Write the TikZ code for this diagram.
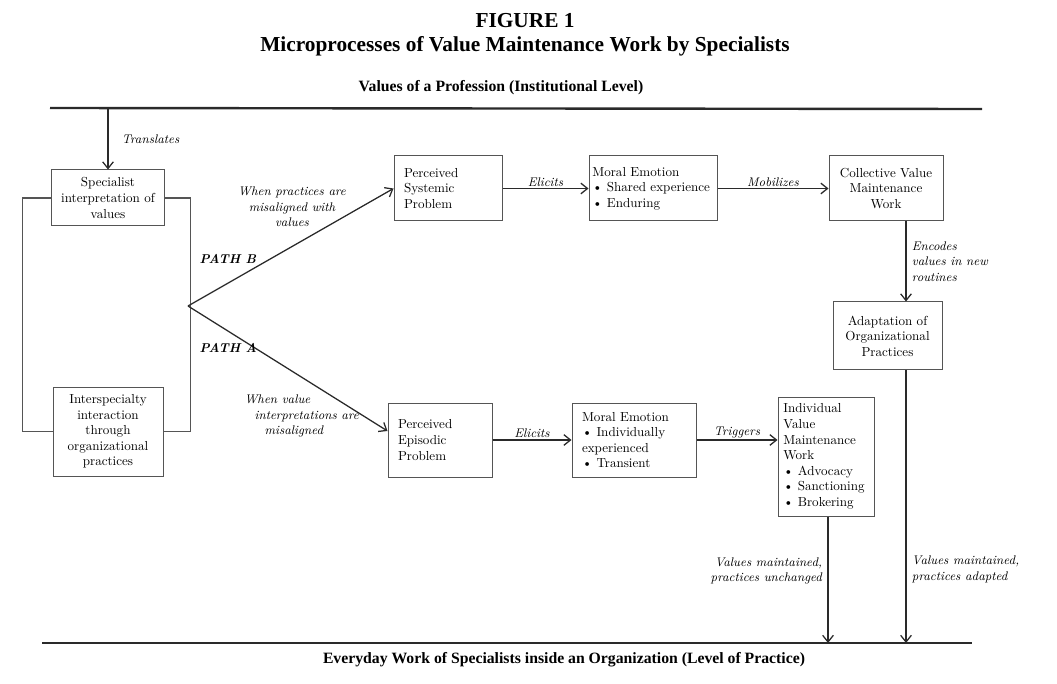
\documentclass[tikz,border=0pt]{standalone}
\usepackage{fontspec}
\usepackage{tikz}
\usetikzlibrary{arrows.meta, positioning}
\newfontfamily\headfont{Liberation Serif}
\definecolor{boxgray}{HTML}{555555}
\definecolor{inkgray}{HTML}{2A2A2A}
\hyphenpenalty=10000

\tikzset{
  box/.style={draw=boxgray, line width=0.75pt, inner xsep=7.5pt, inner ysep=2pt, font=\fontsize{9.8}{11.7}\selectfont},
  arr/.style={draw=inkgray, line width=0.95pt, -{Straight Barb[length=5pt, width=8pt]}},
  link/.style={draw=boxgray, line width=0.8pt},
  level/.style={draw=inkgray, line width=1.8pt},
  note/.style={font=\fontsize{9.4}{11.6}\selectfont\itshape, inner sep=1pt},
  pathlab/.style={font=\fontsize{9.6}{11.6}\selectfont\bfseries\itshape},
  head/.style={font=\headfont\bfseries\fontsize{16}{19}\selectfont},
  tier/.style={font=\headfont\bfseries\fontsize{11.8}{14}\selectfont},
}

\begin{document}
\begin{tikzpicture}[x=0.75pt, y=-0.75pt]
    \useasboundingbox (0,0) rectangle (1057,684);

    % headings and the two levels
    \node[head] (fig) at (525,21) {FIGURE 1};
    \node[head] (title) at (525,46) {Microprocesses of Value Maintenance Work by Specialists};
    \node[tier] (inst) at (501,88) {Values of a Profession (Institutional Level)};
    \node[tier] (prac) at (564,660) {Everyday Work of Specialists inside an Organization (Level of Practice)};

    \draw[level] (50,108) -- (982,109);
    \draw[level] (42,643) -- (972,643);

    % left pair
    \node[box, minimum width=82.5pt, minimum height=42pt, align=center] (spec) at (108,198) {Specialist\\ interpretation of\\ values};
    \node[box, minimum width=82.5pt, minimum height=66.75pt, align=center] (inter) at (108,431.5) {Interspecialty\\ interaction\\ through\\ organizational\\ practices};

    \draw[link] (spec.west) -- ++(-28,0) |- (inter.west);
    \draw[link] (spec.east) -- ++(25,0) |- (inter.east);

    \coordinate (src) at (108,108);
    \coordinate (fork) at (188,306);
    \draw[arr] (src) -- (spec.north) node[note, midway, right=9pt] (transl) {Translates};

    % path B
    \node[box, text width=66pt, minimum height=48.75pt, align=left] (sysprob) at (448,188.5) {Perceived\\ Systemic\\ Problem};
    \node[box, inner xsep=2.5pt, text width=91pt, minimum height=48.75pt, align=left] (emoshared) at (653,188.5) {Moral Emotion\\ \mbox{\textbullet\ Shared experience}\\ \textbullet\ Enduring};
    \node[box, minimum width=85.5pt, minimum height=48.75pt, align=center] (collwork) at (886,188.5) {Collective Value\\ Maintenance\\ Work};
    \node[box, minimum width=81.75pt, minimum height=51pt, align=center] (adapt) at (887.5,336) {Adaptation of\\ Organizational\\ Practices};

    % path A
    \node[box, text width=63pt, minimum height=55.5pt, align=left] (epiprob) at (440,440) {Perceived\\ Episodic\\ Problem};
    \node[box, text width=78pt, minimum height=55.5pt, align=left] (emoindiv) at (634,440) {Moral Emotion\\ \textbullet\ Individually\\ experienced\\ \textbullet\ Transient};
    \node[box, inner xsep=4pt, text width=64pt, minimum height=89.25pt, align=left] (indwork) at (826,456.5) {Individual\\ Value\\ Maintenance\\ Work\\ \textbullet\ Advocacy\\ \textbullet\ Sanctioning\\ \textbullet\ Brokering};

    \draw[arr] (fork) -- (sysprob.west);
    \draw[arr] (fork) -- ([yshift=6.75pt]epiprob.west);
    \node[note, align=center] (whenB) at (292,207) {When practices are\\ misaligned with\\ values};
    \node[note, align=left, anchor=west] (whenA) at (243,416) {When value\\ \hspace*{7.5pt}interpretations are\\ \hspace*{15pt}misaligned};
    \node[pathlab, anchor=west] (pathB) at (195,259) {PATH B};
    \node[pathlab, anchor=west] (pathA) at (195,348) {PATH A};

    \draw[arr] (sysprob) -- (emoshared) node[note, midway, above] (elicitB) {Elicits};
    \draw[arr] (emoshared) -- (collwork) node[note, midway, above] (mobil) {Mobilizes};

    \coordinate (dropB) at (906,643);
    \coordinate (dropA) at (828,643);
    \draw[arr] (dropB |- collwork.south) -- (dropB |- adapt.north) node[note, midway, right=3pt, align=left] (encode) {Encodes\\ values in new\\ routines};
    \draw[arr] (dropB |- adapt.south) -- (dropB) node[note, pos=0.73, right=3pt, align=left] (adapted) {Values maintained,\\ practices adapted};

    \draw[arr] (epiprob) -- (emoindiv) node[note, midway, above] (elicitA) {Elicits};
    \draw[arr] (emoindiv.east) -- (emoindiv.east -| indwork.west) node[note, midway, above] (trig) {Triggers};
    \draw[arr] (dropA |- indwork.south) -- (dropA) node[note, pos=0.43, left=3pt, align=right] (unchanged) {Values maintained,\\ practices unchanged};
\end{tikzpicture}
\end{document}
